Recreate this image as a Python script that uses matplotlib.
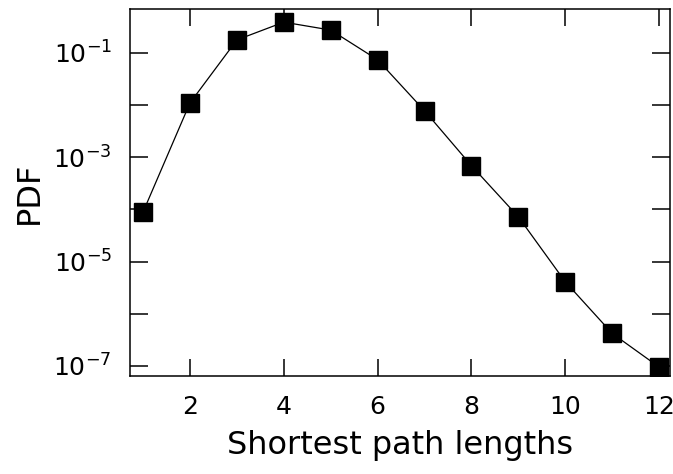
import matplotlib
matplotlib.use("Agg")
import matplotlib.pyplot as plt
from matplotlib.ticker import FixedLocator, LogFormatterSciNotation, NullFormatter

lengths = [1, 2, 3, 4, 5, 6, 7, 8, 9, 10, 11, 12]
pdf = [8.9e-5, 1.1e-2, 1.78e-1, 3.9e-1, 2.75e-1, 7.4e-2, 7.8e-3, 6.9e-4, 7.2e-5, 4.1e-6, 4.2e-7, 9.5e-8]
x_ticks = [2, 4, 6, 8, 10, 12]
y_major = [1e-7, 1e-5, 1e-3, 1e-1]
y_minor = [1e-6, 1e-4, 1e-2]

plt.rcParams['font.family'] = ['DejaVu Sans']
fig = plt.figure(figsize=(6.73, 4.74), dpi=100)
ax = fig.add_axes([0.193, 0.207, 0.8025, 0.774])
ax.plot(lengths, pdf, color='black', lw=0.9, marker='s', ms=13, mfc='black', mec='black')
ax.set_yscale('log')
ax.set_xlim(0.72, 12.23)
ax.set_ylim(10**-7.19, 10**-0.157)
ax.xaxis.set_major_locator(FixedLocator(x_ticks))
ax.yaxis.set_major_locator(FixedLocator(y_major))
ax.yaxis.set_minor_locator(FixedLocator(y_minor))
ax.yaxis.set_major_formatter(LogFormatterSciNotation())
ax.yaxis.set_minor_formatter(NullFormatter())
ax.tick_params(axis='both', which='both', direction='in', top=True, right=True,
               length=13, width=1.1, labelsize=18)
ax.tick_params(axis='x', which='both', length=12, pad=14)
ax.tick_params(axis='y', which='both', pad=13)
for s in ax.spines.values():
    s.set_linewidth(1.1)
ax.set_xlabel('Shortest path lengths', fontsize=23, labelpad=8)
ax.set_ylabel('PDF', fontsize=23, labelpad=6)
fig.savefig('out.png', dpi=100)
